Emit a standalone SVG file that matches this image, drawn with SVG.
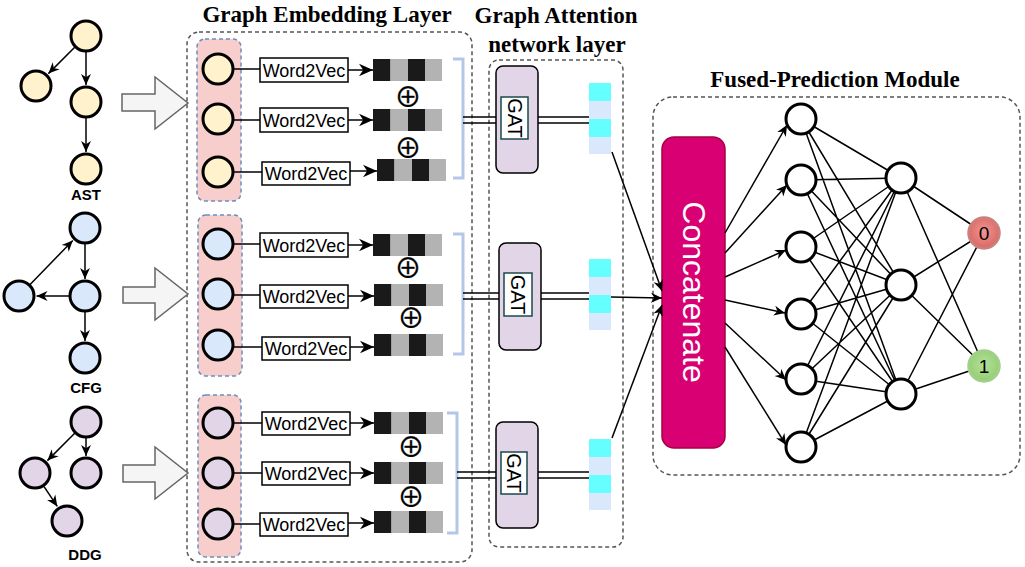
<svg xmlns="http://www.w3.org/2000/svg" xmlns:xlink="http://www.w3.org/1999/xlink" width="1025" height="567" viewBox="0 0 1025 567">
<style>
.title{font-family:"Liberation Serif","Times New Roman",serif;font-weight:bold;font-size:23px;fill:#000;text-anchor:middle}
.lbl{font-family:"Liberation Sans",Arial,sans-serif;font-weight:bold;font-size:15px;fill:#000;text-anchor:middle}
.w2v{font-family:"Liberation Sans",Arial,sans-serif;font-size:18px;fill:#000;text-anchor:middle}
.gat{font-family:"Liberation Sans",Arial,sans-serif;font-size:20px;fill:#000;text-anchor:middle}
.oplus{font-family:"Noto Sans CJK JP","DejaVu Sans",sans-serif;font-size:27px;fill:#000;stroke:#000;stroke-width:0.4;text-anchor:middle}
.dash{fill:none;stroke:#555;stroke-width:1.5;stroke-dasharray:4 3}
.col{fill:#f8cecc;stroke:#6c8ebf;stroke-width:1.5;stroke-dasharray:4 3}
.nd{stroke:#000;stroke-width:3}
.ast{fill:#fff2cc}.cfg{fill:#dae8fc}.ddg{fill:#e1d5e7}
.edge{stroke:#000;stroke-width:1.5;fill:none}
.big{fill:#f5f5f5;stroke:#666;stroke-width:1.5}
.box{fill:#fff;stroke:#000;stroke-width:1.5}
.brk{fill:none;stroke:#b4c7e7;stroke-width:3}
.gatbox{fill:#e1d5e7;stroke:#000;stroke-width:1.5}
.gatin{fill:#fff;stroke:#1a4a4a;stroke-width:1.5}
.nn{fill:#fff;stroke:#000;stroke-width:3}
.k{fill:#1a1a1a}.g{fill:#b3b3b3}.c{fill:#66ffff}.lb{fill:#dae8fc}
</style>
<defs>
<marker id="ah" viewBox="0 0 10 10" refX="10" refY="5" markerWidth="11" markerHeight="11" markerUnits="userSpaceOnUse" orient="auto"><path d="M0,0.5 L10,5 L0,9.5 L3,5 Z" fill="#000"/></marker>
<marker id="ahb" viewBox="0 0 10 10" refX="10" refY="5" markerWidth="14" markerHeight="14" markerUnits="userSpaceOnUse" orient="auto"><path d="M0,0.5 L10,5 L0,9.5 L3,5 Z" fill="#000"/></marker>
<g id="vec"><rect x="0" y="0" width="17.5" height="22" class="k"/><rect x="17.5" y="0" width="17.5" height="22" class="g"/><rect x="35" y="0" width="17" height="22" class="k"/><rect x="52" y="0" width="17" height="22" class="g"/></g>
<g id="cvec"><rect x="0" y="0" width="22" height="18" class="c"/><rect x="0" y="18" width="22" height="18" class="lb"/><rect x="0" y="36" width="22" height="18" class="c"/><rect x="0" y="54" width="22" height="17" class="lb"/></g>
<radialGradient id="red" cx="0.5" cy="0.45" r="0.6"><stop offset="0" stop-color="#ee9793"/><stop offset="1" stop-color="#d9625e"/></radialGradient>
<radialGradient id="grn" cx="0.5" cy="0.45" r="0.6"><stop offset="0" stop-color="#b5e09c"/><stop offset="1" stop-color="#8fcc6c"/></radialGradient>
</defs>

<!-- titles -->
<text class="title" x="327" y="22">Graph Embedding Layer</text>
<text class="title" x="556" y="23">Graph Attention</text>
<text class="title" x="557" y="52">network layer</text>
<text class="title" x="835" y="87">Fused-Prediction Module</text>

<!-- containers -->
<g id="embedding-layer"><rect class="dash" x="187" y="32" width="285" height="530" rx="12"/></g>
<g id="gat-layer"><rect class="dash" x="489" y="60" width="134" height="487" rx="10"/></g>
<g id="fused-module"><rect class="dash" x="653" y="97" width="367" height="378" rx="20"/></g>

<!-- source graphs -->
<g id="ast-graph">
<line class="edge" x1="74.7" y1="47.3" x2="48.4" y2="73.6" marker-end="url(#ah)"/>
<line class="edge" x1="86" y1="52" x2="86" y2="85" marker-end="url(#ah)"/>
<line class="edge" x1="86" y1="118" x2="86" y2="152" marker-end="url(#ah)"/>
<circle class="nd ast" cx="86" cy="36" r="15"/>
<circle class="nd ast" cx="36" cy="86" r="15"/>
<circle class="nd ast" cx="86" cy="102" r="15"/>
<circle class="nd ast" cx="86" cy="169" r="15"/>
<text class="lbl" x="86" y="200">AST</text>
</g>
<g id="cfg-graph">
<line class="edge" x1="30.1" y1="284.5" x2="72.8" y2="240.5" marker-end="url(#ah)"/>
<line class="edge" x1="85" y1="244" x2="85" y2="279" marker-end="url(#ah)"/>
<line class="edge" x1="69" y1="296" x2="36.5" y2="296" marker-end="url(#ah)"/>
<line class="edge" x1="85" y1="312" x2="85" y2="341" marker-end="url(#ah)"/>
<circle class="nd cfg" cx="85" cy="228" r="15"/>
<circle class="nd cfg" cx="19" cy="296" r="15"/>
<circle class="nd cfg" cx="85" cy="296" r="15"/>
<circle class="nd cfg" cx="85" cy="358" r="15"/>
<text class="lbl" x="86" y="393">CFG</text>
</g>
<g id="ddg-graph">
<line class="edge" x1="74.7" y1="433.3" x2="47.4" y2="460.6" marker-end="url(#ah)"/>
<line class="edge" x1="86" y1="438" x2="86" y2="456" marker-end="url(#ah)"/>
<line class="edge" x1="43.9" y1="486.3" x2="57.3" y2="506.4" marker-end="url(#ah)"/>
<circle class="nd ddg" cx="86" cy="422" r="15"/>
<circle class="nd ddg" cx="35" cy="473" r="15"/>
<circle class="nd ddg" cx="86" cy="473" r="15"/>
<circle class="nd ddg" cx="67" cy="521" r="15"/>
<text class="lbl" x="85" y="560">DDG</text>
</g>

<!-- block arrows -->
<g id="block-arrows">
<path class="big" d="M122,94 L155,94 L155,77 L188,103 L155,129 L155,111 L122,111 Z"/>
<path class="big" d="M123,287 L155,287 L155,268 L188,294 L155,320 L155,303 L123,303 Z"/>
<path class="big" d="M123,465 L155,465 L155,447 L188,473 L155,499 L155,482 L123,482 Z"/>
</g>

<!-- embedding group 1 -->
<g id="emb-ast">
<rect class="col" x="197" y="39" width="44" height="162" rx="8"/>
<line class="edge" x1="233" y1="69" x2="260" y2="69"/>
<line class="edge" x1="233" y1="120" x2="260" y2="120"/>
<line class="edge" x1="233" y1="172" x2="262" y2="172"/>
<circle class="nd ast" cx="218" cy="69" r="15"/>
<circle class="nd ast" cx="218" cy="119" r="15"/>
<circle class="nd ast" cx="218" cy="172" r="15"/>
<rect class="box" x="260" y="58" width="88" height="24"/><text class="w2v" x="304" y="76.5">Word2Vec</text>
<rect class="box" x="260" y="108" width="88" height="24"/><text class="w2v" x="304" y="126.5">Word2Vec</text>
<rect class="box" x="262" y="162" width="88" height="23"/><text class="w2v" x="306" y="180">Word2Vec</text>
<line class="edge" x1="348" y1="70" x2="373" y2="70" marker-end="url(#ahb)"/>
<line class="edge" x1="348" y1="120" x2="373" y2="120" marker-end="url(#ahb)"/>
<line class="edge" x1="350" y1="171" x2="377" y2="171" marker-end="url(#ahb)"/>
<use xlink:href="#vec" x="373" y="59"/>
<use xlink:href="#vec" x="373" y="109"/>
<use xlink:href="#vec" x="377" y="159"/>
<text class="oplus" x="408" y="107">⊕</text>
<text class="oplus" x="408" y="158">⊕</text>
<path class="brk" d="M453,59 L463,59 L463,178 L453,178"/>
</g>

<!-- embedding group 2 -->
<g id="emb-cfg">
<rect class="col" x="198" y="215" width="44" height="161" rx="8"/>
<line class="edge" x1="233" y1="244" x2="260" y2="244"/>
<line class="edge" x1="233" y1="295" x2="260" y2="295"/>
<line class="edge" x1="233" y1="347" x2="262" y2="347"/>
<circle class="nd cfg" cx="218" cy="244" r="15"/>
<circle class="nd cfg" cx="218" cy="294" r="15"/>
<circle class="nd cfg" cx="218" cy="345" r="15"/>
<rect class="box" x="260" y="233" width="88" height="24"/><text class="w2v" x="304" y="251.5">Word2Vec</text>
<rect class="box" x="260" y="285" width="88" height="23"/><text class="w2v" x="304" y="303">Word2Vec</text>
<rect class="box" x="262" y="337" width="88" height="23"/><text class="w2v" x="306" y="355">Word2Vec</text>
<line class="edge" x1="348" y1="245" x2="373" y2="245" marker-end="url(#ahb)"/>
<line class="edge" x1="348" y1="296" x2="374" y2="296" marker-end="url(#ahb)"/>
<line class="edge" x1="350" y1="347" x2="374" y2="347" marker-end="url(#ahb)"/>
<use xlink:href="#vec" x="373" y="234"/>
<use xlink:href="#vec" x="374" y="284"/>
<use xlink:href="#vec" x="374" y="334"/>
<text class="oplus" x="408" y="278">⊕</text>
<text class="oplus" x="411" y="328">⊕</text>
<path class="brk" d="M453,234 L463,234 L463,354 L453,354"/>
</g>

<!-- embedding group 3 -->
<g id="emb-ddg">
<rect class="col" x="198" y="395" width="43" height="162" rx="8"/>
<line class="edge" x1="233" y1="423" x2="262" y2="423"/>
<line class="edge" x1="233" y1="473" x2="262" y2="473"/>
<line class="edge" x1="233" y1="524" x2="260" y2="524"/>
<circle class="nd ddg" cx="218" cy="423" r="15"/>
<circle class="nd ddg" cx="218" cy="473" r="15"/>
<circle class="nd ddg" cx="218" cy="524" r="15"/>
<rect class="box" x="262" y="412" width="88" height="23"/><text class="w2v" x="306" y="430">Word2Vec</text>
<rect class="box" x="262" y="462" width="88" height="23"/><text class="w2v" x="306" y="480">Word2Vec</text>
<rect class="box" x="260" y="513" width="88" height="23"/><text class="w2v" x="304" y="531">Word2Vec</text>
<line class="edge" x1="350" y1="423" x2="374" y2="423" marker-end="url(#ahb)"/>
<line class="edge" x1="350" y1="473" x2="374" y2="473" marker-end="url(#ahb)"/>
<line class="edge" x1="348" y1="523" x2="374" y2="523" marker-end="url(#ahb)"/>
<use xlink:href="#vec" x="374" y="412"/>
<use xlink:href="#vec" x="374" y="462"/>
<use xlink:href="#vec" x="374" y="511"/>
<text class="oplus" x="411" y="457">⊕</text>
<text class="oplus" x="411" y="507">⊕</text>
<path class="brk" d="M447,413 L457,413 L457,533 L447,533"/>
</g>

<!-- GAT units -->
<g id="gat-1">
<line class="edge" x1="463" y1="117" x2="496" y2="117"/><line class="edge" x1="463" y1="123" x2="496" y2="123"/>
<line class="edge" x1="538" y1="117" x2="589" y2="117"/><line class="edge" x1="538" y1="123" x2="589" y2="123"/>
<rect class="gatbox" x="496" y="66" width="42" height="107" rx="7"/>
<rect class="gatin" x="501" y="97" width="27" height="42"/>
<text class="gat" transform="translate(514.5,118) rotate(90)" y="7">GAT</text>
<use xlink:href="#cvec" x="589" y="83"/>
</g>
<g id="gat-2">
<line class="edge" x1="463" y1="293" x2="499" y2="293"/><line class="edge" x1="463" y1="299" x2="499" y2="299"/>
<line class="edge" x1="541" y1="293" x2="589" y2="293"/><line class="edge" x1="541" y1="299" x2="589" y2="299"/>
<rect class="gatbox" x="499" y="243" width="42" height="107" rx="7"/>
<rect class="gatin" x="504" y="273" width="28" height="43"/>
<text class="gat" transform="translate(518,294.5) rotate(90)" y="7">GAT</text>
<use xlink:href="#cvec" x="589" y="259"/>
</g>
<g id="gat-3">
<line class="edge" x1="457" y1="472" x2="496" y2="472"/><line class="edge" x1="457" y1="478" x2="496" y2="478"/>
<line class="edge" x1="538" y1="472" x2="589" y2="472"/><line class="edge" x1="538" y1="478" x2="589" y2="478"/>
<rect class="gatbox" x="496" y="422" width="42" height="106" rx="7"/>
<rect class="gatin" x="501" y="452" width="26" height="42"/>
<text class="gat" transform="translate(514,473) rotate(90)" y="7">GAT</text>
<use xlink:href="#cvec" x="589" y="439"/>
</g>

<!-- concatenate -->
<g id="concatenate">
<rect x="662" y="137" width="63" height="311" rx="12" fill="#d80073" stroke="#a50040" stroke-width="1.5"/>
<text transform="translate(693.5,292) rotate(90)" y="11" font-family="Liberation Sans, Arial, sans-serif" font-size="32" fill="#fff" text-anchor="middle">Concatenate</text>
</g>

<!-- connectors -->
<g id="connectors">
<line class="edge" x1="612" y1="152" x2="662" y2="291" marker-end="url(#ah)"/>
<line class="edge" x1="611" y1="297" x2="662" y2="298" marker-end="url(#ah)"/>
<line class="edge" x1="612" y1="438" x2="662" y2="305" marker-end="url(#ah)"/>
<line class="edge" x1="725" y1="233" x2="787" y2="125" marker-end="url(#ah)"/>
<line class="edge" x1="725" y1="253" x2="787" y2="185" marker-end="url(#ah)"/>
<line class="edge" x1="725" y1="277" x2="786" y2="250" marker-end="url(#ah)"/>
<line class="edge" x1="725" y1="300" x2="785" y2="313" marker-end="url(#ah)"/>
<line class="edge" x1="725" y1="323" x2="786" y2="380" marker-end="url(#ah)"/>
<line class="edge" x1="725" y1="347" x2="786" y2="445" marker-end="url(#ah)"/>
<g class="edge">
<path d="M801,119 L901,178 M801,119 L901,285 M801,119 L901,394
M801,180 L901,178 M801,180 L901,285 M801,180 L901,394
M801,247 L901,178 M801,247 L901,285 M801,247 L901,394
M801,314 L901,178 M801,314 L901,285 M801,314 L901,394
M801,379 L901,178 M801,379 L901,285 M801,379 L901,394
M801,447 L901,178 M801,447 L901,285 M801,447 L901,394
M901,178 L984,233 M901,178 L984,366
M901,285 L984,233 M901,285 L984,366
M901,394 L984,233 M901,394 L984,366"/>
</g>
</g>

<!-- network nodes -->
<g id="layer1">
<circle class="nn" cx="801" cy="119" r="15"/>
<circle class="nn" cx="801" cy="180" r="15"/>
<circle class="nn" cx="801" cy="247" r="15"/>
<circle class="nn" cx="801" cy="314" r="15"/>
<circle class="nn" cx="801" cy="379" r="15"/>
<circle class="nn" cx="801" cy="447" r="15"/>
</g>
<g id="layer2">
<circle class="nn" cx="901" cy="178" r="15"/>
<circle class="nn" cx="901" cy="285" r="15"/>
<circle class="nn" cx="901" cy="394" r="15"/>
</g>
<g id="output-0">
<circle cx="984" cy="233" r="15.5" fill="url(#red)" stroke="#c9817e" stroke-width="2.5"/>
<text x="984" y="240" font-family="Liberation Sans, Arial, sans-serif" font-size="19" text-anchor="middle" fill="#000">0</text>
</g>
<g id="output-1">
<circle cx="984" cy="366" r="15.5" fill="url(#grn)" stroke="#a3cf8c" stroke-width="2.5"/>
<text x="984" y="373" font-family="Liberation Sans, Arial, sans-serif" font-size="19" text-anchor="middle" fill="#000">1</text>
</g>
</svg>
